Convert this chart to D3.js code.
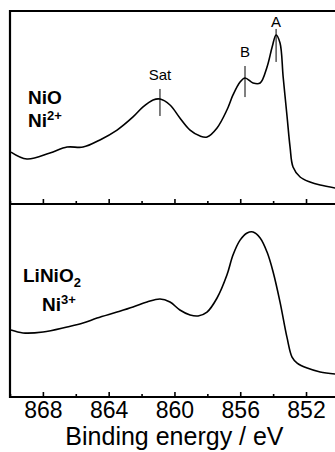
<!DOCTYPE html>
<html>
<head>
<meta charset="utf-8">
<script src="https://cdn.jsdelivr.net/npm/d3@7"></script>
<style>
  html, body { margin: 0; padding: 0; background: #fff; }
  svg { display: block; font-family: "Liberation Sans", Arial, sans-serif; }
</style>
</head>
<body>
<div id="chart"></div>
<script>
// binding energy (eV) and intensity (a.u., 0-100 per panel)
const nioEnergy = [869.94, 868.97, 867.57, 866.53, 865.56, 864.53, 863.49, 862.52, 861.91, 861.30,
  860.88, 860.27, 859.67, 859.05, 858.44, 858.02, 857.41, 856.81, 856.44, 856.01,
  855.71, 855.22, 854.79, 854.37, 854.06, 853.82, 853.58, 853.39, 853.15, 852.97,
  852.79, 852.36, 851.76, 851.14, 850.23];
const nioIntensity = [26.9, 23.3, 26.4, 29.5, 29.5, 33.2, 38.3, 45.1, 50.3, 53.9,
  54.4, 51.3, 44.6, 38.3, 35.2, 34.7, 39.4, 48.7, 56.5, 63.2,
  65.3, 62.7, 62.7, 71.0, 81.3, 87.6, 83.4, 65.8, 45.1, 29.5,
  19.2, 14.0, 11.4, 9.8, 8.3];

const linio2Energy = [869.94, 869.21, 867.99, 866.53, 865.56, 864.71, 863.49, 862.52, 861.67, 860.88,
  860.27, 859.67, 859.05, 858.56, 858.02, 857.41, 856.81, 856.44, 856.01, 855.58,
  855.22, 854.79, 854.37, 854.00, 853.58, 853.15, 852.85, 852.54, 851.93, 851.14, 850.23];
const linio2Intensity = [34.7, 33.2, 33.7, 36.3, 38.3, 40.9, 44.0, 46.6, 49.2, 50.8,
  49.2, 45.1, 42.5, 42.0, 44.0, 51.3, 63.2, 73.6, 81.3, 85.0,
  85.5, 82.4, 75.1, 64.8, 49.2, 30.6, 20.7, 17.6, 15.0, 13.0, 11.9];

// peak markers on the NiO spectrum (marker spans in intensity units)
const markerLabels = ["Sat", "B", "A"];
const markerEnergy = [860.88, 855.71, 853.82];
const markerHigh = [59.6, 71.5, 90.7];
const markerLow = [45.6, 55.4, 73.6];

const majorTicks = [868, 864, 860, 856, 852];
const minorTicks = [870, 866, 862, 858, 854, 850];

const W = 335, H = 452;
const padL = 10, padT = 11, midY = 204, baseY = 397;

const svg = d3.select("#chart").append("svg")
  .attr("width", W).attr("height", H);

const x = d3.scaleLinear().domain([870, 848]).range([padL, 371.8]);
const yTop = d3.scaleLinear().domain([0, 100]).range([midY, padT]);
const yBot = d3.scaleLinear().domain([0, 100]).range([baseY, midY]);

function ticks(yBase, labels) {
  const major = d3.axisBottom(x).tickValues(majorTicks)
    .tickSizeInner(-5).tickSizeOuter(0).tickPadding(5)
    .tickFormat(labels ? d3.format("d") : "");
  const gMaj = svg.append("g").attr("transform", `translate(0,${yBase})`).call(major);
  gMaj.select(".domain").remove();
  gMaj.selectAll(".tick line").attr("stroke", "#000").attr("stroke-width", 1.6);
  gMaj.selectAll(".tick text").attr("font-size", 23).attr("fill", "#000")
    .attr("font-family", "Liberation Sans, Arial, sans-serif");

  const minor = d3.axisBottom(x).tickValues(minorTicks)
    .tickSizeInner(-3).tickSizeOuter(0).tickFormat("");
  const gMin = svg.append("g").attr("transform", `translate(0,${yBase})`).call(minor);
  gMin.select(".domain").remove();
  gMin.selectAll(".tick line").attr("stroke", "#000").attr("stroke-width", 1.6);
}

ticks(midY, false);
ticks(baseY, true);

const line = (yScale) => d3.line()
  .x(d => x(d[0])).y(d => yScale(d[1]))
  .curve(d3.curveCatmullRom.alpha(0.5));

svg.append("path")
  .datum(d3.zip(nioEnergy, nioIntensity))
  .attr("fill", "none").attr("stroke", "#000").attr("stroke-width", 1.6)
  .attr("d", line(yTop));

svg.append("path")
  .datum(d3.zip(linio2Energy, linio2Intensity))
  .attr("fill", "none").attr("stroke", "#000").attr("stroke-width", 1.6)
  .attr("d", line(yBot));

// frame
svg.append("path")
  .attr("fill", "none").attr("stroke", "#000").attr("stroke-width", 2.2)
  .attr("d", `M${x(848)},${padT}H${padL}V${baseY}H${x(848)}M${padL},${midY}H${x(848)}`);

// peak markers
markerLabels.forEach((lab, i) => {
  const mx = x(markerEnergy[i]);
  svg.append("line")
    .attr("x1", mx).attr("x2", mx)
    .attr("y1", yTop(markerHigh[i])).attr("y2", yTop(markerLow[i]))
    .attr("stroke", "#000").attr("stroke-width", 1);
  svg.append("text")
    .attr("x", mx).attr("y", yTop(markerHigh[i]) - (lab === "A" ? 2 : 9))
    .attr("text-anchor", "middle").attr("font-size", 15)
    .text(lab);
});

// sample labels
function label(xp, yp, main, sup, sub) {
  const t = svg.append("text").attr("x", xp).attr("y", yp)
    .attr("font-size", 19).attr("font-weight", "bold");
  t.append("tspan").text(main);
  if (sup) t.append("tspan").attr("font-size", 13).attr("dy", -7).text(sup);
  if (sub) t.append("tspan").attr("font-size", 13).attr("dy", 5).text(sub);
}
label(28, 104, "NiO");
label(28, 127, "Ni", "2+");
label(23, 282, "LiNiO", null, "2");
label(42, 311, "Ni", "3+");

// axis title
svg.append("text")
  .attr("x", x(860)).attr("y", 445)
  .attr("text-anchor", "middle").attr("font-size", 25)
  .text("Binding energy / eV");
</script>
</body>
</html>
